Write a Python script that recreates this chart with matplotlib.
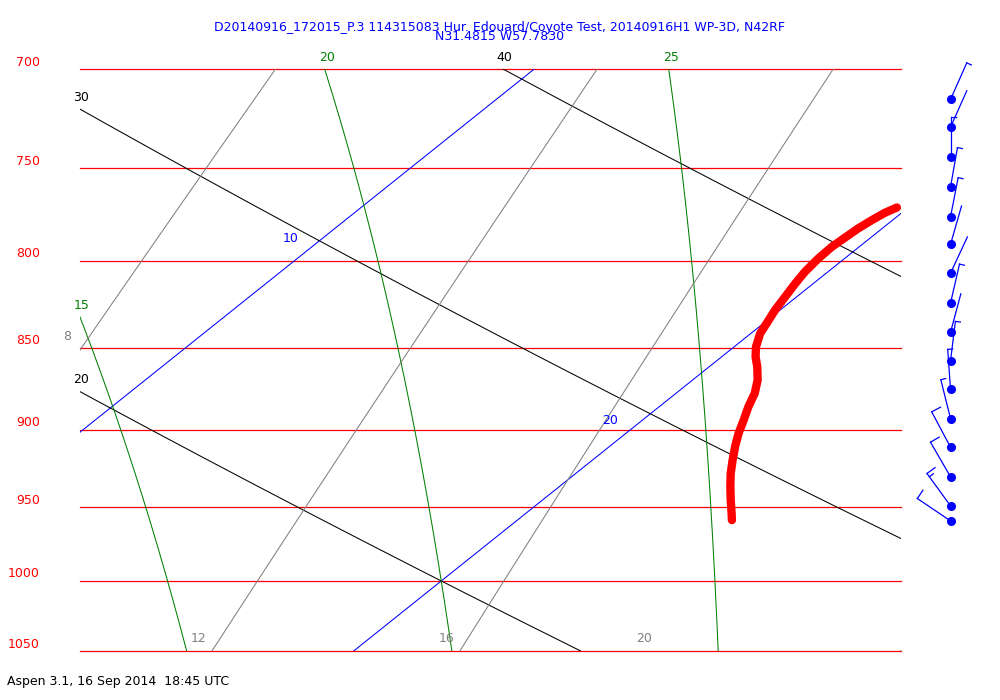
import numpy as np
import matplotlib
matplotlib.use("Agg")
import matplotlib.pyplot as plt

# ------------------------------------------------------------------
# Sounding trace (pressure hPa, temp degC)
# ------------------------------------------------------------------
pres = [770.9, 773.8, 777.8, 782.3, 787.2, 792.4, 798.8, 806.3, 812.8, 820.4,
        828.1, 835.8, 841.6, 849.5, 855.4, 861.4, 869.4, 877.5, 885.7, 894.0,
        902.3, 910.7, 919.2, 927.8, 936.5, 945.2, 954.0, 958.5]
temp = [19.79, 19.69, 19.62, 19.56, 19.53, 19.50, 19.52, 19.58, 19.67, 19.79,
        19.91, 20.06, 20.17, 20.40, 20.62, 20.88, 21.19, 21.44, 21.63, 21.85,
        22.06, 22.30, 22.56, 22.83, 23.13, 23.44, 23.76, 23.92]

# wind barbs (direction wind comes from, deg; speed, kt)
wind_p = [715, 729, 744, 760, 776, 791, 807, 824, 841, 858, 875, 893, 911, 930, 949, 959]
wind_dir = [24, 24, 0, 10, 11, 16, 25, 13, 15, 7, 356, 346, 332, 330, 324, 304]
wind_spd = [5, 3, 5, 5, 5, 3, 3, 5, 3, 5, 5, 5, 10, 10, 15, 10]

# background line sets
isobars = [700, 750, 800, 850, 900, 950, 1000, 1050]
isotherms = [-30, -20, -10, 0, 10, 20, 30, 40]
dry_adiabats = [10, 20, 30, 40, 50]          # theta, degC
moist_adiabats = [10, 15, 20, 25, 30]        # theta-w, degC
mix_lines = [8, 12, 16]                      # g/kg, drawn
mix_labels = [8, 12, 16, 20]                 # g/kg, labelled

title1 = "D20140916_172015_P.3 114315083 Hur. Edouard/Coyote Test, 20140916H1 WP-3D, N42RF"
title2 = "N31.4815 W57.7830"
footer = "Aspen 3.1, 16 Sep 2014  18:45 UTC"

# diagram geometry
P_BOT, P_TOP = 1050, 700
X_LEFT, X_RIGHT = 15, 30
SKEW = 32.8
KAPPA = 0.288
RD, CP, EPS = 287.04, 1005.7, 0.622


def skew_x(t, p):
    return np.asarray(t) + SKEW * np.log(P_BOT / np.asarray(p, dtype=float))


def sat_vp(tc):
    return 6.112 * np.exp(17.67 * tc / (tc + 243.5))


def dry_t(theta, p):
    return (theta + 273.15) * (p / 1000.0) ** KAPPA - 273.15


def mix_td(w, p):
    e = w / 1000.0 * p / (EPS + w / 1000.0)
    lg = np.log(e / 6.112)
    return 243.5 * lg / (17.67 - lg)


def dtdp(t, p):
    tc = t - 273.15
    lv = 2.501e6 - 2370.0 * tc
    es = sat_vp(tc)
    rs = EPS * es / (p - es)
    return (RD * t + lv * rs) / (CP + lv ** 2 * rs * EPS / (RD * t ** 2)) / p


def integrate(t0, ps):
    out = [t0]
    t = t0
    for p0, p1 in zip(ps[:-1], ps[1:]):
        h = p1 - p0
        k1 = dtdp(t, p0)
        k2 = dtdp(t + h / 2 * k1, p0 + h / 2)
        k3 = dtdp(t + h / 2 * k2, p0 + h / 2)
        k4 = dtdp(t + h * k3, p1)
        t = t + h / 6 * (k1 + 2 * k2 + 2 * k3 + k4)
        out.append(t)
    return np.array(out)


def moist_t(thw):
    p_up = np.arange(1000.0, 689.0, -1.0)
    p_dn = np.arange(1000.0, 1061.0, 1.0)
    t_up = integrate(thw + 273.15, p_up)
    t_dn = integrate(thw + 273.15, p_dn)
    p = np.concatenate([p_up[::-1], p_dn[1:]])
    t = np.concatenate([t_up[::-1], t_dn[1:]]) - 273.15
    return p, t


def upper_entry(x, p):
    inside = (x >= X_LEFT) & (x <= X_RIGHT) & (p >= P_TOP) & (p <= P_BOT)
    if not inside.any():
        return None
    i = int(np.argmax(inside))
    if p[i] <= P_TOP + 0.5 or x[i - 1] > X_RIGHT or i == 0:
        return np.interp(P_TOP, p, x), P_TOP
    f = (X_LEFT - x[i - 1]) / (x[i] - x[i - 1])
    return X_LEFT, p[i - 1] + f * (p[i] - p[i - 1])


def lower_entry(x, p):
    inside = (x >= X_LEFT) & (x <= X_RIGHT)
    if not inside.any():
        return None
    j = len(inside) - 1 - int(np.argmax(inside[::-1]))
    if j == len(x) - 1:
        return x[-1], p[-1]
    f = (X_LEFT - x[j]) / (x[j + 1] - x[j])
    return X_LEFT, p[j] + f * (p[j + 1] - p[j])


fig = plt.figure(figsize=(10, 7), dpi=100)
ax = fig.add_axes([0.080, 0.070, 0.821, 0.8314])
ax.set_yscale("log")
ax.set_xlim(X_LEFT, X_RIGHT)
ax.set_ylim(P_BOT, P_TOP)
ax.axis("off")

pg = np.linspace(P_TOP, P_BOT, 600)
lw = 0.75

# isobars + labels
for p in isobars:
    ax.axhline(p, color="red", lw=0.9, clip_on=False)
    ax.annotate(str(p), xy=(-0.0487, p), xycoords=("axes fraction", "data"),
                xytext=(0, 7), textcoords="offset pixels", ha="right", va="center",
                color="red", fontsize=9, annotation_clip=False)

# isotherms (blue), labelled at the middle of the visible piece
for t in isotherms:
    xs = skew_x(np.full_like(pg, t), pg)
    ax.plot(xs, pg, color="blue", lw=lw)
    vis = (xs >= X_LEFT) & (xs <= X_RIGHT)
    if vis.sum() > 2:
        a = ax.transData.transform((xs[vis][0], pg[vis][0]))
        b = ax.transData.transform((xs[vis][-1], pg[vis][-1]))
        mx, mp = ax.transData.inverted().transform((a + b) / 2)
        ax.annotate(str(t), xy=(mx, mp), xytext=(-17, 12), textcoords="offset pixels",
                    ha="center", va="center", color="blue", fontsize=9)

# dry adiabats (black)
for th in dry_adiabats:
    xs = skew_x(dry_t(th, pg), pg)
    ax.plot(xs, pg, color="black", lw=lw)
    e = upper_entry(xs, pg)
    if e is not None:
        ax.annotate(str(th), xy=e, xytext=(1, 12), textcoords="offset pixels",
                    ha="center", va="center", color="black", fontsize=9,
                    annotation_clip=False)

# moist adiabats (green)
for thw in moist_adiabats:
    pm, tm = moist_t(thw)
    xs = skew_x(tm, pm)
    ax.plot(xs, pm, color="green", lw=lw)
    e = upper_entry(xs, pm)
    if e is not None:
        ax.annotate(str(thw), xy=e, xytext=(2, 12), textcoords="offset pixels",
                    ha="center", va="center", color="green", fontsize=9,
                    annotation_clip=False)

# mixing-ratio lines (gray)
for w in mix_labels:
    xs = skew_x(mix_td(w, pg), pg)
    if w in mix_lines:
        ax.plot(xs, pg, color="gray", lw=lw)
    e = lower_entry(xs, pg)
    if e is not None:
        ax.annotate(str(w), xy=e, xytext=(-13, 13), textcoords="offset pixels",
                    ha="center", va="center", color="gray", fontsize=9,
                    annotation_clip=False)

# sounding trace
ax.plot(skew_x(temp, pres), pres, color="red", lw=6.0, solid_capstyle="round",
        solid_joinstyle="round", zorder=5)

# wind barbs in their own strip on the right
bax = fig.add_axes([0.901, 0.070, 0.099, 0.8314])
bax.set_yscale("log")
bax.set_xlim(0, 1)
bax.set_ylim(P_BOT, P_TOP)
bax.axis("off")
inv = bax.transData.inverted()
STAFF, FULL, HALF, GAP = 40, 10, 5, 4
for p, d, s in zip(wind_p, wind_dir, wind_spd):
    base = bax.transData.transform((0.5, p))
    a = np.radians(d)
    u = np.array([np.sin(a), np.cos(a)])
    perp = np.array([u[1], -u[0]])
    tip = base + STAFF * u
    segs = [(base, tip)]
    n_full, rest = divmod(s, 10)
    k = 0
    for _ in range(n_full):
        st = tip - k * GAP * u
        segs.append((st, st + FULL * perp))
        k += 1
    if rest >= 5:
        st = tip - k * GAP * u
        segs.append((st, st + HALF * perp))
    for seg in segs:
        pts = inv.transform(np.array(seg))
        bax.plot(pts[:, 0], pts[:, 1], color="blue", lw=0.9, clip_on=False)
    bax.plot(0.5, p, "o", ms=5.5, color="blue", clip_on=False)

fig.text(0.5, 1 - 27 / 700, title1, ha="center", va="center", color="blue", fontsize=9)
fig.text(0.5, 1 - 37 / 700, title2, ha="center", va="center", color="blue", fontsize=9)
fig.text(0.007, 1 - 681 / 700, footer, ha="left", va="center", color="black", fontsize=9)

fig.savefig("out.png", dpi=100)
